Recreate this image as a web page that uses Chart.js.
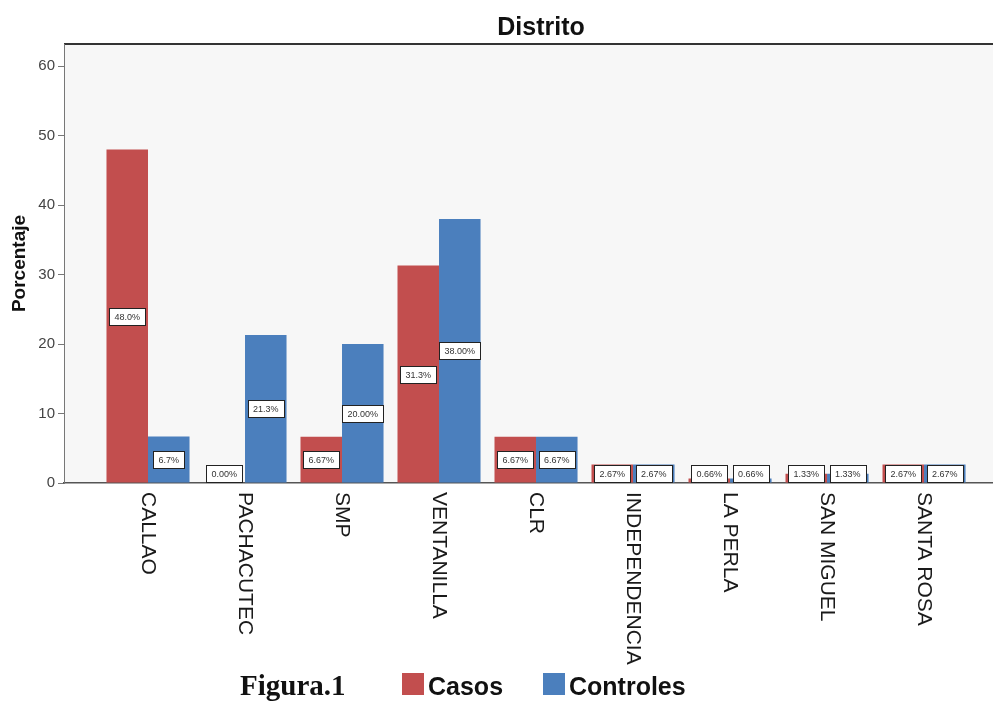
<!DOCTYPE html>
<html>
<head>
<meta charset="utf-8">
<script src="https://cdn.jsdelivr.net/npm/chart.js@4/dist/chart.umd.min.js"></script>
<style>
  html, body { margin: 0; padding: 0; background: #fff; }
  #wrap { width: 993px; height: 711px; }
</style>
</head>
<body>
<div id="wrap"><canvas id="c" width="993" height="711"></canvas></div>
<script>
// Distribución por distrito: casos vs. controles (%)
const distritos = ['CALLAO', 'PACHACUTEC', 'SMP', 'VENTANILLA', 'CLR', 'INDEPENDENCIA', 'LA PERLA', 'SAN MIGUEL', 'SANTA ROSA'];
const casos = [48.0, 0.00, 6.67, 31.3, 6.67, 2.67, 0.66, 1.33, 2.67];
const controles = [6.7, 21.3, 20.00, 38.00, 6.67, 2.67, 0.66, 1.33, 2.67];
// decimals shown in each bar's value label
const casosDecimales = [1, 2, 2, 1, 2, 2, 2, 2, 2];
const controlesDecimales = [1, 1, 2, 2, 2, 2, 2, 2, 2];
const yTicks = [0, 10, 20, 30, 40, 50, 60];

const SANS = '"Liberation Sans", Arial, Helvetica, sans-serif';
const SERIF = '"Liberation Serif", "Times New Roman", serif';
const ROJO = '#c24e4e';
const AZUL = '#4b7fbd';

const spssPlugin = {
  id: 'spssStyle',
  beforeDraw(chart) {
    const { ctx, chartArea: a } = chart;
    ctx.save();
    ctx.fillStyle = '#f7f7f7';
    ctx.fillRect(a.left, a.top, a.right - a.left, a.bottom - a.top);
    ctx.strokeStyle = '#333';
    ctx.lineWidth = 2;
    ctx.beginPath();
    ctx.moveTo(a.left, a.top);
    ctx.lineTo(a.right, a.top);
    ctx.stroke();
    ctx.restore();
  },
  afterDatasetsDraw(chart) {
    const { ctx } = chart;
    ctx.save();
    ctx.font = '9px ' + SANS;
    ctx.textAlign = 'center';
    ctx.textBaseline = 'middle';
    chart.data.datasets.forEach((ds, di) => {
      const meta = chart.getDatasetMeta(di);
      const dec = di === 0 ? casosDecimales : controlesDecimales;
      meta.data.forEach((bar, i) => {
        const txt = ds.data[i].toFixed(dec[i]) + '%';
        const w = Math.round(ctx.measureText(txt).width + 10);
        const h = 17;
        let cy = (bar.y + bar.base) / 2;
        cy = Math.min(cy, bar.base - h / 2 - 1);
        const x0 = Math.round(bar.x - w / 2) + 0.5;
        const y0 = Math.round(cy - h / 2) + 0.5;
        ctx.fillStyle = '#fff';
        ctx.fillRect(x0, y0, w, h);
        ctx.strokeStyle = '#222';
        ctx.lineWidth = 1;
        ctx.strokeRect(x0, y0, w, h);
        ctx.fillStyle = '#333';
        ctx.fillText(txt, bar.x, y0 + h / 2 + 0.5);
      });
    });
    ctx.restore();
  },
  afterDraw(chart) {
    const { ctx } = chart;
    const xs = chart.scales.x;
    ctx.save();
    // title
    ctx.fillStyle = '#111';
    ctx.font = 'bold 25px ' + SANS;
    ctx.textAlign = 'center';
    ctx.textBaseline = 'alphabetic';
    ctx.fillText('Distrito', 541, 35);

    // category labels, reading top to bottom
    ctx.font = '21px ' + SANS;
    ctx.fillStyle = '#1a1a1a';
    ctx.textAlign = 'left';
    ctx.textBaseline = 'middle';
    distritos.forEach((d, i) => {
      const x = xs.getPixelForValue(i);
      ctx.save();
      ctx.translate(x, xs.top + 9);
      ctx.rotate(Math.PI / 2);
      ctx.fillText(d, 0, 0);
      ctx.restore();
    });

    // caption and legend
    ctx.textBaseline = 'alphabetic';
    ctx.fillStyle = '#111';
    ctx.font = 'bold 29px ' + SERIF;
    ctx.fillText('Figura.1', 240, 695);

    const items = [
      { label: chart.data.datasets[0].label, color: ROJO, x: 402 },
      { label: chart.data.datasets[1].label, color: AZUL, x: 543 }
    ];
    ctx.font = 'bold 25px ' + SANS;
    items.forEach(it => {
      ctx.fillStyle = it.color;
      ctx.fillRect(it.x, 673, 22, 22);
      ctx.fillStyle = '#111';
      ctx.fillText(it.label, it.x + 26, 695);
    });
    ctx.restore();
  }
};

new Chart(document.getElementById('c'), {
  type: 'bar',
  data: {
    labels: distritos,
    datasets: [
      { label: 'Casos', data: casos, backgroundColor: ROJO, borderWidth: 0 },
      { label: 'Controles', data: controles, backgroundColor: AZUL, borderWidth: 0 }
    ]
  },
  options: {
    responsive: false,
    animation: false,
    devicePixelRatio: 1,
    layout: { padding: { top: 44, bottom: 228, left: 0, right: 0 } },
    datasets: { bar: { categoryPercentage: 0.856, barPercentage: 1.0 } },
    plugins: {
      legend: { display: false },
      title: { display: false },
      tooltip: { enabled: false }
    },
    scales: {
      x: {
        offset: true,
        grid: { display: false },
        border: { display: true, color: '#555', width: 1.5 },
        ticks: { display: false },
        afterFit(scale) { scale.height = 0; },
        afterBuildTicks(scale) {
          // extra room on the left of the first district
          scale._startValue = -0.866;
          scale._valueRange = 9.577;
        }
      },
      y: {
        min: 0,
        max: 63.2,
        border: { display: true, color: '#777', width: 1 },
        grid: { drawOnChartArea: false, drawTicks: true, tickLength: 6, color: '#777' },
        ticks: {
          color: '#444',
          font: { family: SANS, size: 15 },
          padding: 3,
          includeBounds: false
        },
        afterBuildTicks(scale) {
          scale.ticks = yTicks.map(v => ({ value: v }));
        },
        afterFit(scale) { scale.width = 64; },
        title: {
          display: true,
          text: 'Porcentaje',
          color: '#111',
          font: { family: SANS, size: 19, weight: 'bold' },
          padding: { top: 8, bottom: 0 }
        }
      }
    }
  },
  plugins: [spssPlugin]
});
</script>
</body>
</html>
